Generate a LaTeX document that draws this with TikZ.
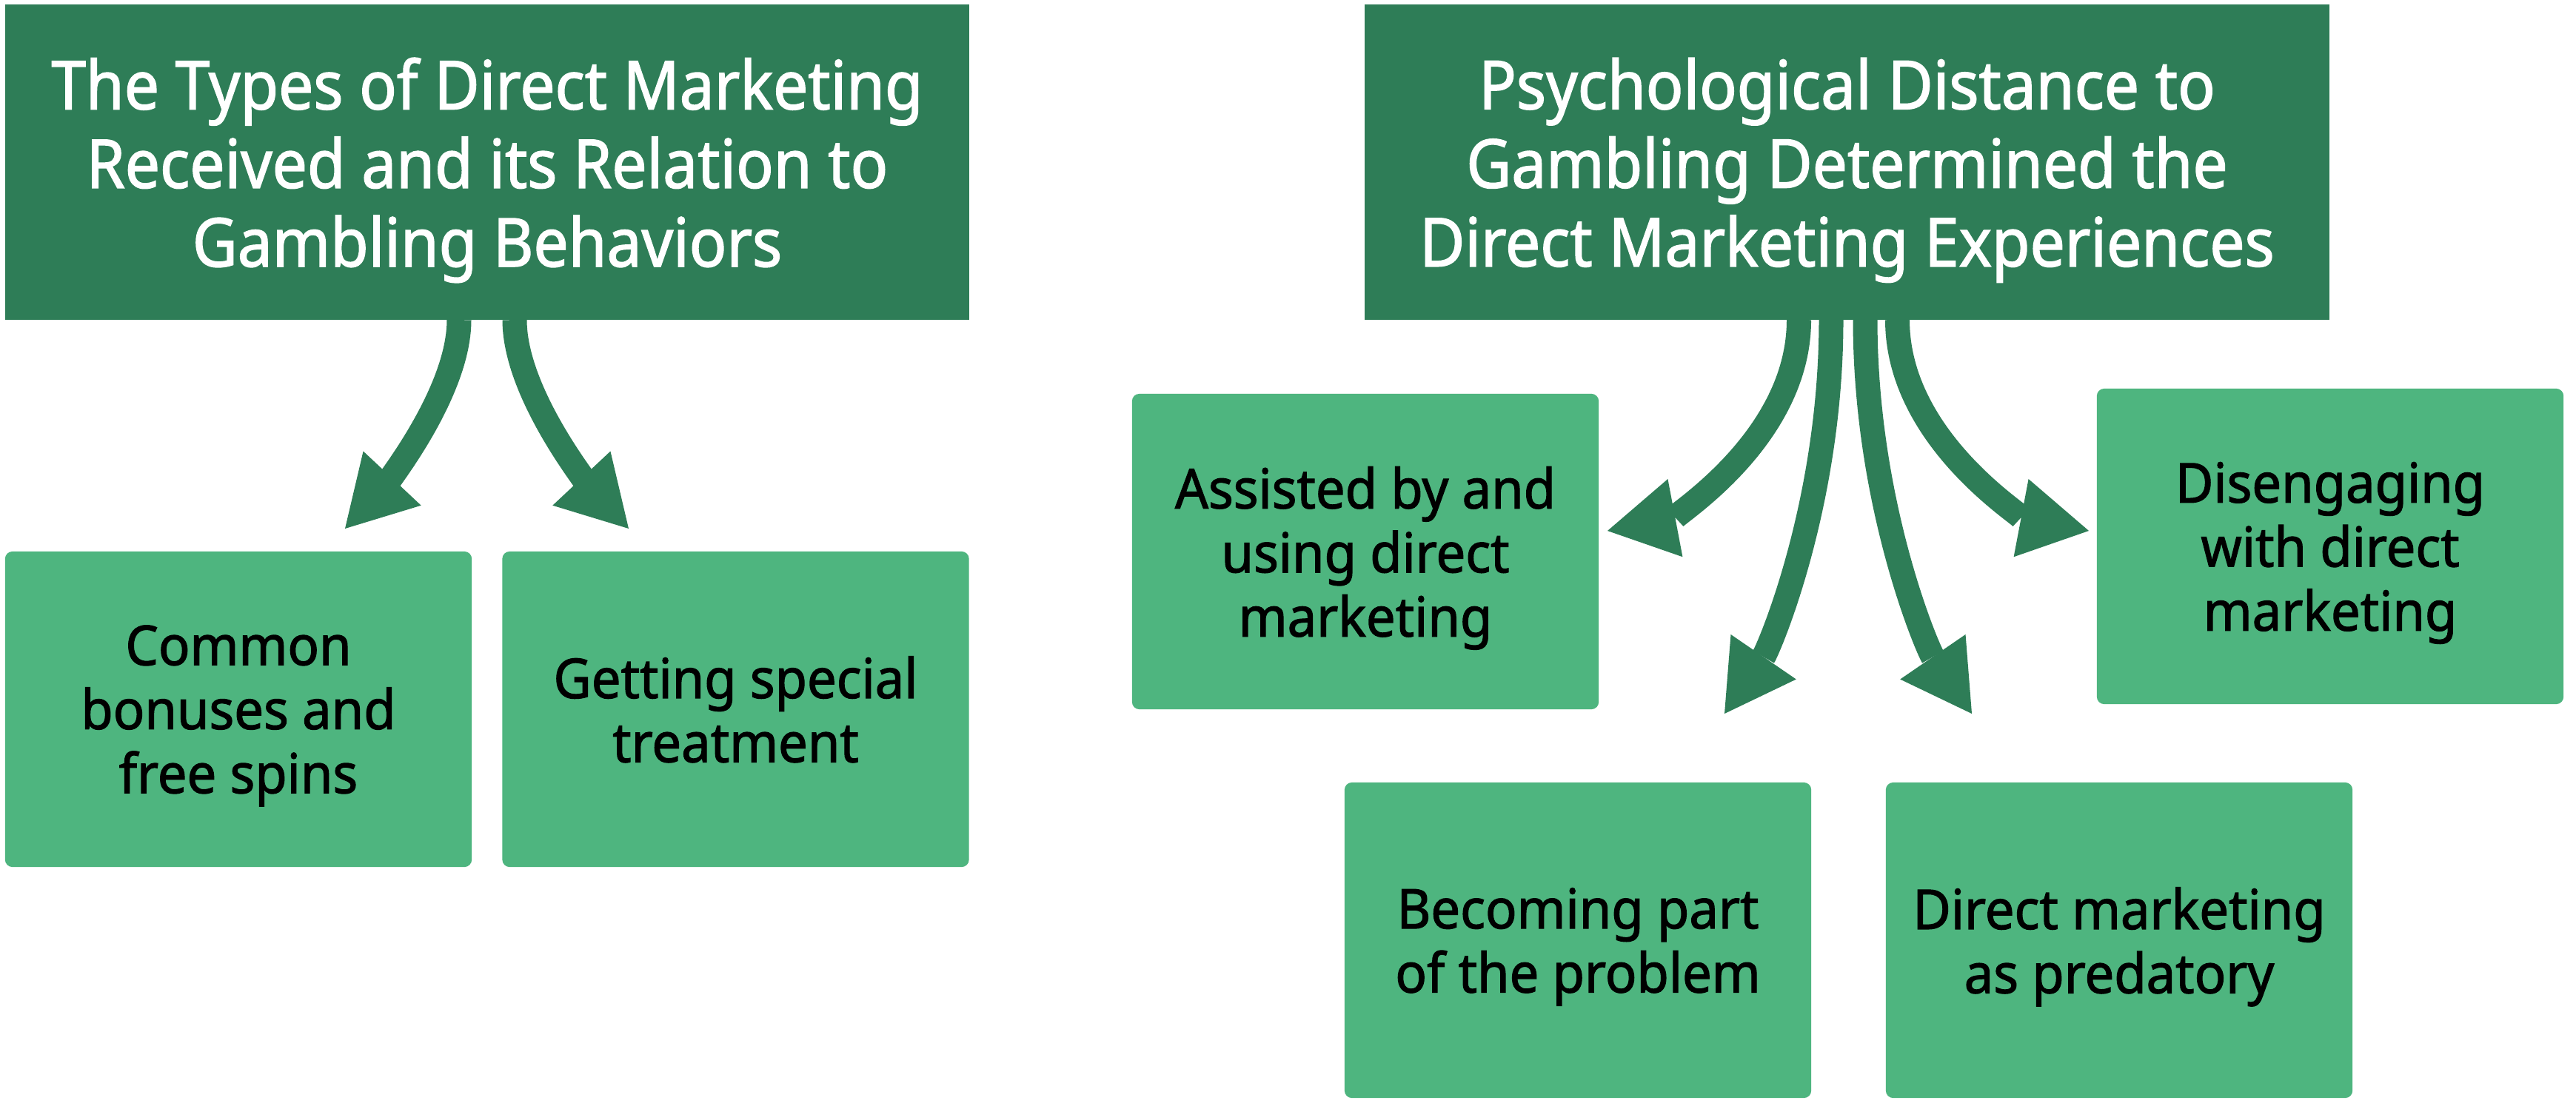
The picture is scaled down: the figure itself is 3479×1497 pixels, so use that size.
\documentclass[tikz,border=0pt]{standalone}
\usepackage{fontspec}
\newfontfamily\titlefont{Noto Sans}[FakeStretch=0.92, FakeBold=1.6]
\newfontfamily\boxfont{Noto Sans}[FakeStretch=0.95, FakeBold=1.6]
\usetikzlibrary{arrows.meta,calc}
\definecolor{darkgreen}{HTML}{2E7D57}
\definecolor{lightgreen}{HTML}{4EB57F}
\tikzset{
  titlebox/.style={fill=darkgreen, text=white, inner sep=0pt, outer sep=0pt,
    minimum height=4.26cm, align=center, text depth=0pt,
    font=\titlefont\fontsize{25.9}{30.2}\selectfont},
  itembox/.style={fill=lightgreen, text=black, rounded corners=0.1cm,
    inner sep=0pt, outer sep=0pt, minimum width=6.3cm, minimum height=4.26cm,
    align=center, text depth=0pt, font=\boxfont\fontsize{21.1}{24.6}\selectfont},
  flow/.style={draw=darkgreen, line width=0.33cm,
    -{Triangle[length=0.93cm, width=1.07cm, line width=0pt]}}
}
\begin{document}
\begin{tikzpicture}[x=0.01cm, y=-0.01cm]
\useasboundingbox (0,0) rectangle (3479,1497);
\fill[white] (0,0) rectangle (3479,1497);

% title boxes
\node[titlebox, minimum width=13.02cm] (t1) at (658,219)
  {The Types of Direct Marketing\\Received and its Relation to\\Gambling Behaviors};
\node[titlebox, minimum width=13.03cm] (t2) at (2494.5,219)
  {Psychological Distance to\\Gambling Determined the\\Direct Marketing Experiences};

% item boxes
\node[itembox] (b1) at (322,958) {Common\\bonuses and\\free spins};
\node[itembox] (b2) at (993.5,958) {Getting special\\treatment};
\node[itembox] (b3) at (1844,745) {Assisted by and\\using direct\\marketing};
\node[itembox] (b4) at (3147,738) {Disengaging\\with direct\\marketing};
\node[itembox] (b5) at (2131,1270) {Becoming part\\of the problem};
\node[itembox] (b6) at (2862,1270) {Direct marketing\\as predatory};

% arrow tips (free ends)
\coordinate (tip1) at (466,714);
\coordinate (tip2) at (849,714);
\coordinate (tip3) at (2171,717);
\coordinate (tip4) at (2329,964);
\coordinate (tip5) at (2663,964);
\coordinate (tip6) at (2821,717);

% left arrows
\draw[flow] ($(t1.south)+(-38,0)$) .. controls +(0,110) and (496,682) .. (tip1);
\draw[flow] ($(t1.south)+(37,0)$) .. controls +(0,110) and (819,682) .. (tip2);

% right arrows
\draw[flow] ($(t2.south)+(-65,0)$) .. controls +(0,165) and (2250,702) .. (tip3);
\draw[flow] ($(t2.south)+(-21.5,0)$) .. controls +(0,250) and (2388,878) .. (tip4);
\draw[flow] ($(t2.south)+(24.5,0)$) .. controls +(0,250) and (2604,878) .. (tip5);
\draw[flow] ($(t2.south)+(68,0)$) .. controls +(0,165) and (2742,702) .. (tip6);
\end{tikzpicture}
\end{document}
